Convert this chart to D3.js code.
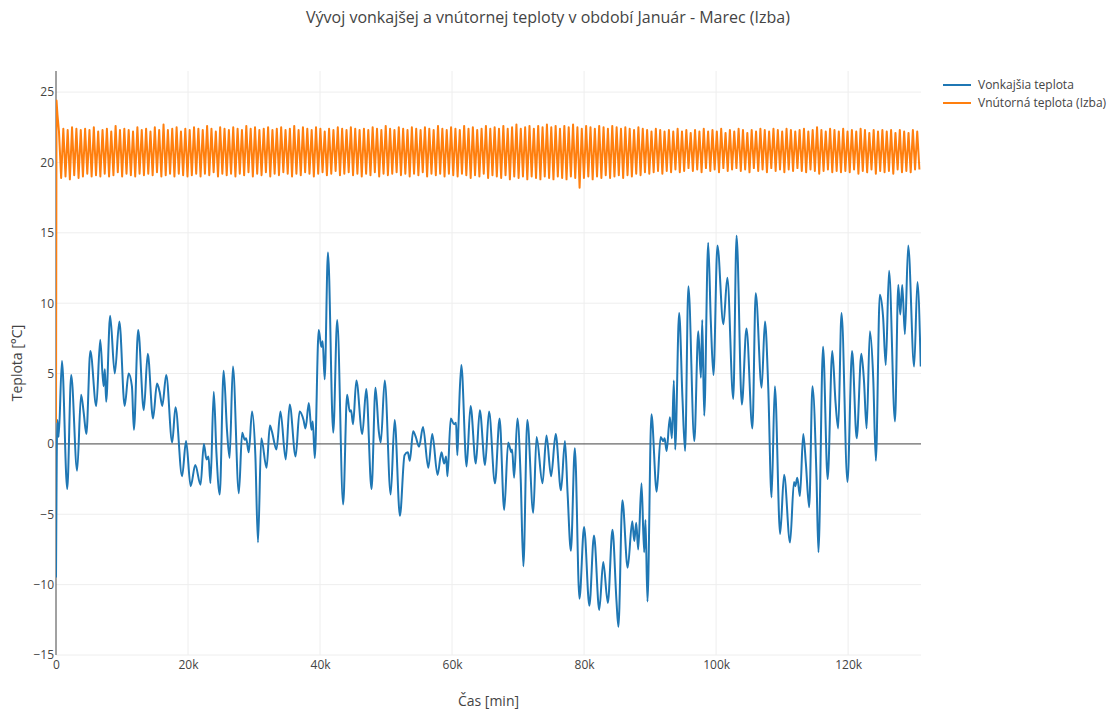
<!DOCTYPE html>
<html>
<head>
<meta charset="utf-8">
<script src="https://cdn.jsdelivr.net/npm/d3@7"></script>
<style>
  body { margin: 0; background: #fff; }
  text { font-family: "Open Sans", verdana, arial, sans-serif; fill: #444; }
</style>
</head>
<body>
<div id="chart-area"></div>
<script>
// ---------------- data ----------------
var chartTitle = "Vývoj vonkajšej a vnútornej teploty v období Január - Marec (Izba)";
var xTitle = "Čas [min]";
var yTitle = "Teplota [°C]";
var seriesNames = ["Vonkajšia teplota", "Vnútorná teplota (Izba)"];

var xTicks = [0, 20000, 40000, 60000, 80000, 100000, 120000];
var yTicks = [-15, -10, -5, 0, 5, 10, 15, 20, 25];

// outside temperature, time in thousand minutes + value
var outsideK = [
  0, 0.2, 0.4, 0.9, 1.7, 2.3, 3.2, 3.8, 4.2, 4.6, 5.2, 6.1, 6.7, 7.2, 7.4, 7.6, 8.2, 8.9, 9.6, 10.4,
  11.0, 11.5, 11.8, 12.45, 13.3, 13.9, 14.7, 15.3, 15.7, 16.1, 16.7, 17.6, 18.1, 19.1, 19.7, 20.4, 21.1, 21.9, 22.4, 22.8,
  23.1, 23.4, 23.9, 24.3, 24.8, 25.4, 25.9, 26.3, 26.8, 27.7, 28.2, 28.6, 28.8, 29.2, 29.7, 30.2, 30.6, 31.1, 31.9, 32.4,
  32.7, 33.4, 34.0, 34.8, 35.4, 36.3, 36.9, 37.5, 37.8, 38.3, 38.7, 38.9, 39.2, 39.8, 40.2, 40.4, 40.7, 41.2, 42.0, 42.6,
  43.5, 44.1, 44.5, 44.7, 45.0, 45.5, 46.4, 47.0, 47.8, 48.4, 48.9, 49.2, 49.8, 50.7, 51.3, 52.1, 52.8, 53.3, 53.6, 54.1,
  54.5, 55.0, 55.6, 56.4, 57.0, 57.8, 58.4, 58.8, 59.1, 59.3, 59.8, 60.3, 60.6, 60.8, 61.0, 61.4, 62.2, 62.8, 63.6, 64.2,
  65.0, 65.6, 66.5, 67.2, 67.9, 68.5, 69.0, 69.1, 69.4, 69.9, 70.4, 70.8, 71.4, 72.3, 72.8, 73.7, 74.3, 75.0, 75.7, 76.5,
  77.1, 77.5, 78.0, 78.6, 79.3, 80.0, 80.8, 81.5, 82.3, 82.9, 83.6, 84.3, 84.9, 85.2, 85.8, 86.6, 87.3, 87.6, 87.9, 88.2,
  88.7, 89.1, 89.3, 89.6, 90.2, 91.0, 91.6, 92.0, 92.2, 92.5, 93.0, 93.3, 93.6, 93.8, 94.4, 94.9, 95.3, 95.8, 96.7, 97.3,
  97.7, 97.9, 98.2, 98.8, 99.2, 99.6, 100.2, 101.1, 101.7, 102.6, 103.1, 103.9, 104.6, 105.5, 106.0, 106.9, 107.4, 107.9, 108.4, 108.9,
  109.7, 110.3, 111.2, 111.8, 112.0, 112.3, 112.7, 113.2, 113.6, 114.1, 114.6, 115.2, 115.5, 116.2, 116.9, 117.6, 118.1, 118.5, 119.0, 119.9,
  120.6, 121.3, 122.0, 122.4, 122.8, 123.3, 123.8, 124.2, 124.8, 125.3, 125.7, 126.2, 127.1, 127.6, 127.9, 128.2, 128.6, 129.1, 130.0, 130.5,
  131.0
];
var outsideTemp = [
  -9.5, 1.7, 0.5, 5.9, -3.2, 4.9, -1.9, 3.5, 2.2, 0.7, 6.6, 2.7, 7.4, 4.1, 5.3, 3.0, 9.1, 5.0, 8.7, 2.7,
  5.0, 4.1, 1.0, 8.1, 2.4, 6.4, 1.8, 4.3, 3.7, 2.7, 4.9, 0.1, 2.6, -2.3, 0.2, -3.0, -1.5, -2.9, 0.0, -1.1,
  -0.9, -2.8, 3.7, -0.6, -3.6, 5.2, 1.0, -1.0, 5.5, -3.5, 0.8, 0.3, 0.4, -0.6, 2.3, -0.8, -7.0, 0.4, -1.7, 1.3,
  0.9, -0.4, 2.3, -1.1, 2.8, -0.9, 2.3, 1.7, 1.1, 2.9, 1.0, 1.6, -1.0, 8.1, 6.9, 7.3, 4.6, 13.6, 0.8, 8.8,
  -4.3, 3.5, 2.3, 2.4, 1.4, 4.5, 0.7, 3.9, -3.2, 4.0, 0.9, 0.1, 4.5, -3.6, 1.7, -5.1, -0.8, -0.6, -1.2, 0.9,
  0.5, -0.2, 1.2, -1.7, 0.7, -2.2, -0.6, -1.4, -0.9, -2.3, 1.8, 1.4, 1.5, -0.8, 1.7, 5.6, -1.6, 2.7, -1.4, 2.4,
  -1.5, 2.3, -2.8, 1.8, -4.7, 0.1, -0.6, -0.4, -2.4, 1.8, -2.5, -8.7, 1.7, -4.9, 0.5, -2.8, 0.6, -2.3, 0.7, -3.3,
  0.2, -3.5, -7.6, -0.3, -11.0, -5.9, -11.5, -6.5, -11.8, -8.4, -11.3, -6.1, -11.1, -13.0, -4.0, -8.8, -5.5, -6.9, -5.6, -7.5,
  -2.8, -7.7, -5.4, -11.2, 2.1, -3.4, 0.5, 0.2, 0.4, -0.5, 1.9, 0.4, 4.5, -0.4, 9.3, 3.3, -0.5, 11.2, 0.2, 8.0,
  4.7, 8.8, 2.0, 14.3, 8.7, 4.9, 14.1, 8.5, 11.8, 3.2, 14.8, 2.8, 8.2, 1.1, 10.7, 4.0, 8.7, 4.0, -3.8, 4.1,
  -6.4, -2.2, -7.0, -2.7, -3.0, -2.4, -3.7, 0.7, -1.4, -4.5, 4.1, -2.2, -7.7, 6.9, -2.5, 6.6, 2.9, 1.1, 9.3, -2.7,
  6.6, 0.4, 6.4, 4.5, 1.1, 8.0, 4.7, -1.2, 10.6, 9.0, 5.6, 12.3, 1.6, 11.3, 9.2, 11.3, 7.8, 14.1, 5.5, 11.5,
  5.5
];

// inside temperature: start-up transient, then alternating peak / trough values
var insideStartMin = [0, 80, 220];
var insideStartTemp = [1.5, 24.4, 23.4];
var insideFirstMin = 450;   // first peak of the oscillation
var insideStepMin = 330;    // minutes between a peak and the next trough
var insideTemp = [
  22.2, 18.9, 22.4, 19.0, 22.3, 18.8, 22.5, 19.1, 22.4, 18.9, 22.3, 19.0, 22.4, 19.2, 22.3, 19.0, 22.5, 19.1, 22.2, 19.0,
  22.3, 19.2, 22.4, 19.0, 22.2, 19.1, 22.6, 19.3, 22.3, 19.0, 22.4, 19.2, 22.3, 19.1, 22.2, 19.0, 22.5, 19.2, 22.3, 19.1,
  22.4, 19.2, 22.2, 19.1, 22.5, 19.3, 22.3, 19.0, 22.7, 19.1, 22.3, 19.2, 22.4, 19.0, 22.5, 19.2, 22.2, 19.1, 22.4, 19.0,
  22.3, 19.1, 22.5, 19.2, 22.4, 19.0, 22.3, 19.2, 22.6, 19.1, 22.4, 19.3, 22.2, 19.0, 22.5, 19.2, 22.4, 19.1, 22.3, 19.2,
  22.5, 19.0, 22.4, 19.2, 22.3, 19.1, 22.6, 19.3, 22.4, 19.0, 22.5, 19.2, 22.3, 19.1, 22.4, 19.3, 22.5, 19.0, 22.3, 19.2,
  22.4, 19.1, 22.5, 19.3, 22.3, 19.2, 22.4, 19.0, 22.6, 19.2, 22.3, 19.1, 22.5, 19.3, 22.4, 19.2, 22.3, 19.0, 22.5, 19.2,
  22.4, 19.3, 22.2, 19.1, 22.4, 19.2, 22.3, 19.4, 22.5, 19.1, 22.4, 19.2, 22.3, 19.3, 22.5, 19.1, 22.4, 19.2, 22.3, 19.0,
  22.4, 19.2, 22.3, 19.1, 22.5, 19.3, 22.4, 19.0, 22.3, 19.2, 22.6, 19.1, 22.4, 19.2, 22.3, 19.3, 22.5, 19.1, 22.4, 19.2,
  22.3, 19.0, 22.5, 19.2, 22.4, 19.1, 22.3, 19.3, 22.5, 19.0, 22.4, 19.2, 22.3, 19.1, 22.6, 19.2, 22.4, 19.0, 22.3, 19.2,
  22.5, 19.1, 22.4, 19.0, 22.3, 19.2, 22.6, 19.1, 22.4, 18.9, 22.5, 19.1, 22.3, 19.0, 22.4, 19.2, 22.6, 18.9, 22.4, 19.1,
  22.5, 19.0, 22.4, 18.9, 22.6, 19.1, 22.4, 18.8, 22.5, 19.0, 22.7, 18.9, 22.4, 19.0, 22.5, 18.8, 22.6, 19.0, 22.4, 18.9,
  22.6, 18.8, 22.5, 19.0, 22.7, 18.9, 22.5, 18.8, 22.6, 19.0, 22.4, 18.9, 22.6, 18.8, 22.5, 19.0, 22.7, 18.9, 22.5, 18.2,
  22.4, 18.9, 22.6, 19.0, 22.5, 18.8, 22.4, 19.0, 22.6, 18.9, 22.5, 19.1, 22.4, 18.9, 22.6, 19.0, 22.5, 19.1, 22.4, 18.9,
  22.5, 19.1, 22.4, 19.0, 22.3, 19.2, 22.5, 19.1, 22.4, 19.3, 22.3, 19.2, 22.2, 19.3, 22.4, 19.4, 22.3, 19.2, 22.2, 19.4,
  22.3, 19.3, 22.2, 19.5, 22.4, 19.3, 22.2, 19.4, 22.3, 19.6, 22.1, 19.4, 22.3, 19.5, 22.2, 19.3, 22.4, 19.6, 22.2, 19.4,
  22.3, 19.5, 22.2, 19.3, 22.4, 19.6, 22.1, 19.4, 22.3, 19.5, 22.2, 19.6, 22.4, 19.4, 22.3, 19.5, 22.1, 19.3, 22.3, 19.6,
  22.2, 19.4, 22.4, 19.5, 22.3, 19.3, 22.2, 19.6, 22.4, 19.4, 22.3, 19.5, 22.2, 19.3, 22.4, 19.5, 22.3, 19.4, 22.2, 19.6,
  22.3, 19.4, 22.4, 19.3, 22.2, 19.5, 22.3, 19.4, 22.5, 19.2, 22.3, 19.4, 22.2, 19.5, 22.4, 19.3, 22.3, 19.4, 22.2, 19.3,
  22.4, 19.4, 22.2, 19.3, 22.3, 19.5, 22.2, 19.2, 22.4, 19.4, 22.3, 19.3, 22.1, 19.5, 22.3, 19.2, 22.2, 19.4, 22.3, 19.3,
  22.2, 19.4, 22.3, 19.2, 22.1, 19.5, 22.3, 19.3, 22.2, 19.4, 22.1, 19.3, 22.3, 19.5, 22.2, 19.5
];

var xMax = 131040;
var yMin = -15, yMax = 26.5;
var colors = ["#1f77b4", "#ff7f0e"];

// ---------------- build point lists ----------------
var outside = outsideK.map(function(k, i) { return [k * 1000, outsideTemp[i]]; });
var inside = insideStartMin.map(function(m, i) { return [m, insideStartTemp[i]]; });
insideTemp.forEach(function(v, i) { inside.push([insideFirstMin + i * insideStepMin, v]); });

// ---------------- layout ----------------
var W = 1107, H = 713;
var margins = { left: 56, right: 186, top: 71, bottom: 58 };
var width = W - margins.left - margins.right;
var height = H - margins.top - margins.bottom;

var svg = d3.select("#chart-area").append("svg")
    .attr("width", W)
    .attr("height", H);

var g = svg.append("g")
    .attr("transform", "translate(" + margins.left + "," + margins.top + ")");

var x = d3.scaleLinear().domain([0, xMax]).range([0, width]);
var y = d3.scaleLinear().domain([yMin, yMax]).range([height, 0]);

// grid
g.append("g").selectAll("line")
  .data(xTicks.filter(function(d) { return d !== 0; }))
  .enter().append("line")
    .attr("x1", function(d) { return x(d); }).attr("x2", function(d) { return x(d); })
    .attr("y1", 0).attr("y2", height)
    .attr("stroke", "#eee").attr("stroke-width", 1);

g.append("g").selectAll("line")
  .data(yTicks.filter(function(d) { return d !== 0; }))
  .enter().append("line")
    .attr("x1", 0).attr("x2", width)
    .attr("y1", function(d) { return y(d); }).attr("y2", function(d) { return y(d); })
    .attr("stroke", "#eee").attr("stroke-width", 1);

// zero lines
g.append("line")
  .attr("x1", 0).attr("x2", width)
  .attr("y1", y(0)).attr("y2", y(0))
  .attr("stroke", "#444").attr("stroke-width", 1);
g.append("line")
  .attr("x1", x(0)).attr("x2", x(0))
  .attr("y1", 0).attr("y2", height)
  .attr("stroke", "#444").attr("stroke-width", 1);

// axes (tick labels only, plotly style)
var xAxisCall = d3.axisBottom(x)
  .tickValues(xTicks)
  .tickSize(0)
  .tickPadding(5)
  .tickFormat(function(d) { return d === 0 ? "0" : (d / 1000) + "k"; });
var xAxisGroup = g.append("g")
  .attr("transform", "translate(0," + height + ")")
  .call(xAxisCall);

var yAxisCall = d3.axisLeft(y)
  .tickValues(yTicks)
  .tickSize(0)
  .tickPadding(2)
  .tickFormat(function(d) { return d < 0 ? "\u2212" + Math.abs(d) : "" + d; });
var yAxisGroup = g.append("g").call(yAxisCall);

[xAxisGroup, yAxisGroup].forEach(function(ag) {
  ag.select(".domain").remove();
  ag.selectAll("text")
    .style("font-family", "'Open Sans', verdana, arial, sans-serif")
    .style("font-size", "12px")
    .attr("fill", "#444");
});

// clip
g.append("clipPath").attr("id", "plotclip")
  .append("rect").attr("x", 0).attr("y", 0).attr("width", width).attr("height", height);

var smoothLine = d3.line()
  .curve(d3.curveMonotoneX)
  .x(function(d) { return x(d[0]); })
  .y(function(d) { return y(d[1]); });

var line = d3.line()
  .x(function(d) { return x(d[0]); })
  .y(function(d) { return y(d[1]); });

var plot = g.append("g").attr("clip-path", "url(#plotclip)");

plot.append("path")
  .datum(outside)
  .attr("fill", "none")
  .attr("stroke", colors[0])
  .attr("stroke-width", 2)
  .attr("stroke-linejoin", "round")
  .attr("d", smoothLine);

plot.append("path")
  .datum(inside)
  .attr("fill", "none")
  .attr("stroke", colors[1])
  .attr("stroke-width", 2)
  .attr("stroke-linejoin", "round")
  .attr("d", line);

// titles
svg.append("text")
  .attr("x", 548)
  .attr("y", 23)
  .attr("text-anchor", "middle")
  .style("font-size", "16px")
  .text(chartTitle);

svg.append("text")
  .attr("x", margins.left + width / 2)
  .attr("y", 706)
  .attr("text-anchor", "middle")
  .style("font-size", "14px")
  .text(xTitle);

svg.append("text")
  .attr("transform", "translate(22," + (margins.top + height / 2) + ") rotate(-90)")
  .attr("text-anchor", "middle")
  .style("font-size", "14px")
  .text(yTitle);

// legend
var legend = svg.append("g").attr("transform", "translate(943,85)");
seriesNames.forEach(function(name, i) {
  var row = legend.append("g").attr("transform", "translate(0," + (i * 18) + ")");
  row.append("line")
    .attr("x1", 0).attr("x2", 28)
    .attr("y1", 0).attr("y2", 0)
    .attr("stroke", colors[i]).attr("stroke-width", 2);
  row.append("text")
    .attr("x", 35)
    .attr("y", 4)
    .style("font-size", "12px")
    .text(name);
});
</script>
</body>
</html>
